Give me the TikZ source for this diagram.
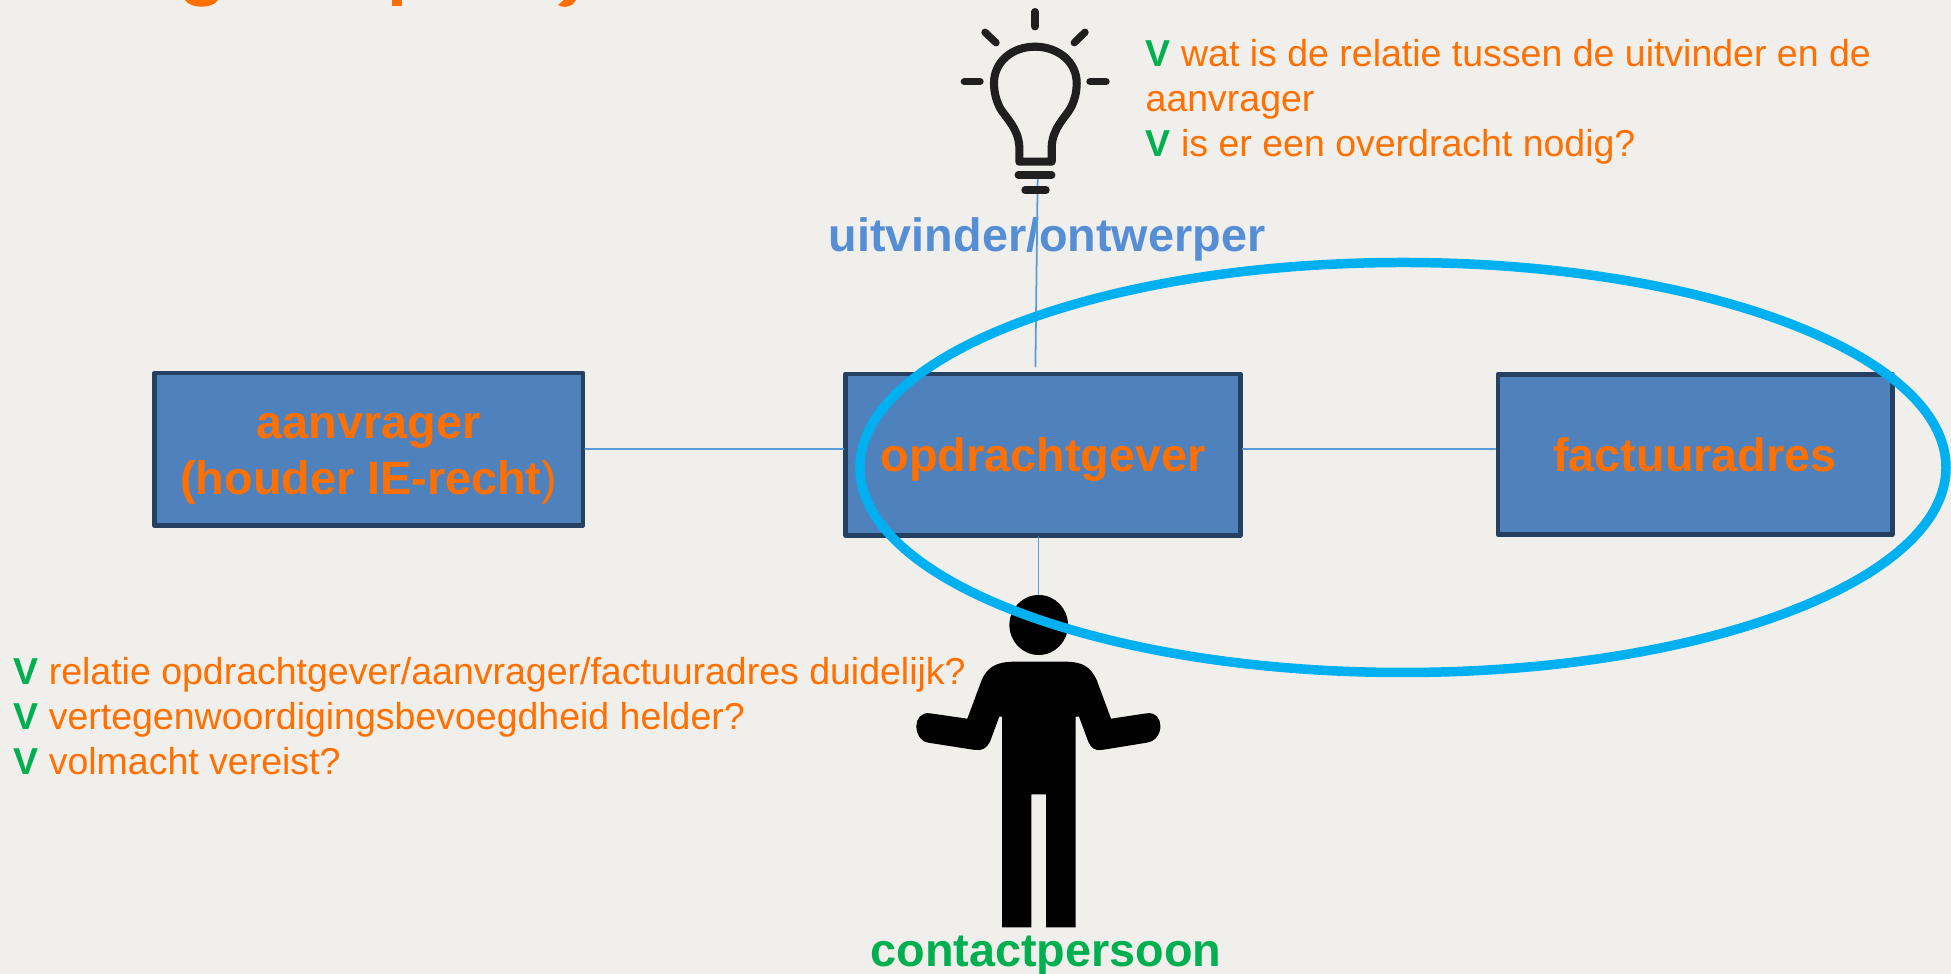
\documentclass[tikz,border=0pt]{standalone}
\usepackage{fontspec}
\setmainfont{Liberation Sans}
\definecolor{paper}{RGB}{241,239,235}
\definecolor{orange}{RGB}{255,112,0}
\definecolor{green}{RGB}{0,176,80}
\definecolor{blue}{RGB}{79,129,189}
\definecolor{navy}{RGB}{37,64,97}
\definecolor{sky}{RGB}{0,176,240}
\definecolor{wire}{RGB}{91,155,213}
\definecolor{label}{RGB}{85,142,213}
\tikzset{
    box/.style = {draw=navy, fill=blue, line width=1.28pt, text=orange, align=center, font=\fontsize{13.3}{15.9}\selectfont\bfseries, inner sep=0pt, text depth=0pt},
    wire/.style = {draw=wire, line width=0.5pt},
    note/.style = {text=orange, align=left, anchor=south west, inner sep=0pt, text depth=0pt, font=\fontsize{10.66}{12.7}\selectfont},
    role/.style = {anchor=base, inner sep=0pt, font=\fontsize{13.3}{15.9}\selectfont\bfseries},
    bulb/.style = {draw=black!88, line width=2.1pt, line cap=round}
}
\newcommand{\tick}{\textcolor{green}{\textbf{V}}}
\begin{document}
\begin{tikzpicture}[line cap=round,line join=round,x=0.01cm,y=-0.01cm]
\useasboundingbox (0,0) rectangle (1951,974);
\fill[paper] (0,0) rectangle (1951,974);

% cut off title
\fill[orange] (185,0) .. controls (190,9) and (213,9) .. (218,0) -- cycle;
\fill[orange] (392,0) rectangle (402,6);
\fill[orange] (558,5) .. controls (562,8) and (572,8) .. (576,0) -- (564,0) -- cycle;

% boxes
\node[box, text height=0.9cm, minimum width=4.28cm, minimum height=1.525cm] (aanvrager) at (368.75,449.3) {aanvrager\\(houder IE-recht{\normalfont )}};
\node[box, minimum width=3.944cm, minimum height=1.615cm] (opdrachtgever) at (1043,454.7) {opdrachtgever};
\node[box, minimum width=3.943cm, minimum height=1.6cm] (factuuradres) at (1695,454.5) {factuuradres};

% labels
\node[role, text=label] (uitvinder) at (1047,251.5) {uitvinder/ontwerper};
\node[role, text=green] (contact) at (1046,967) {contactpersoon};

% wires
\coordinate (bulbfoot) at (1037.7,175);
\coordinate (boxtop) at (1035.4,366.7);
\coordinate (boxfoot) at (1038.5,537);
\coordinate (headtop) at (1038.5,597);
\draw[wire] (bulbfoot) -- (boxtop);
\draw[wire] (boxfoot) -- (headtop);
\draw[wire] (aanvrager.east) -- (aanvrager.east -| opdrachtgever.west);
\draw[wire] (aanvrager.east -| opdrachtgever.east) -- (aanvrager.east -| factuuradres.west);

% bulb
\draw[bulb] (1035,11.7) -- (1035,26.7);
\draw[bulb] (985,32.3) -- (996,42.7);
\draw[bulb] (1085,32.3) -- (1074.3,42.7);
\draw[bulb] (964.3,81.7) -- (980,81.7);
\draw[bulb] (1090,81.7) -- (1106,81.7);
\draw[bulb] (1018.3,175) -- (1051.7,175);
\draw[bulb] (1025,190) -- (1046,190);
\draw[bulb, line width=2.3pt] (1019.3,161.7) -- (1019.3,146) .. controls (1018,128) and (1006,118) .. (1000,108)
    .. controls (996,100) and (994,92) .. (994,83) .. controls (994,62) and (1012,46.7) .. (1035,46.7)
    .. controls (1058,46.7) and (1076.7,62) .. (1076.7,83) .. controls (1076.7,92) and (1074.7,100) .. (1070.7,108)
    .. controls (1064.7,118) and (1053,128) .. (1051.7,146) -- (1051.7,161.7) -- cycle;

% person
\fill (1038.7,625) ellipse (29.3 and 30);
\fill (1013.3,661.7) .. controls (995,662) and (987,668) .. (981.7,680) -- (967.3,718.7) -- (930,713.3)
    .. controls (912,711) and (912,740) .. (928.3,742.7) -- (975,750) .. controls (982,751) and (987,748) .. (990,741.7)
    -- (999.3,716.7) -- (1002,716.7) -- (1002,927.3) -- (1031.3,927.3) -- (1031.3,794.3) -- (1046,794.3)
    -- (1046,927.3) -- (1075.7,927.3) -- (1075.7,716.7) -- (1079,716.7) -- (1088.3,741.7)
    .. controls (1091,748) and (1095,751) .. (1101.7,750) -- (1146.7,742.7)
    .. controls (1165,740) and (1165,711) .. (1146.7,713.3) -- (1111,718.7) -- (1096.7,680)
    .. controls (1091,668) and (1084,662) .. (1066.7,661.7) -- cycle;

% ring
\draw[sky, line width=2.7pt] (1403,467.5) ellipse (543 and 205);

% notes
\node[note] (vraag) at (1145,157) {\tick{} wat is de relatie tussen de uitvinder en de\\aanvrager\\\tick{} is er een overdracht nodig?};
\node[note] (check) at (12.7,775) {\tick{} relatie opdrachtgever/aanvrager/factuuradres duidelijk?\\\tick{} vertegenwoordigingsbevoegdheid helder?\\\tick{} volmacht vereist?};
\end{tikzpicture}
\end{document}
